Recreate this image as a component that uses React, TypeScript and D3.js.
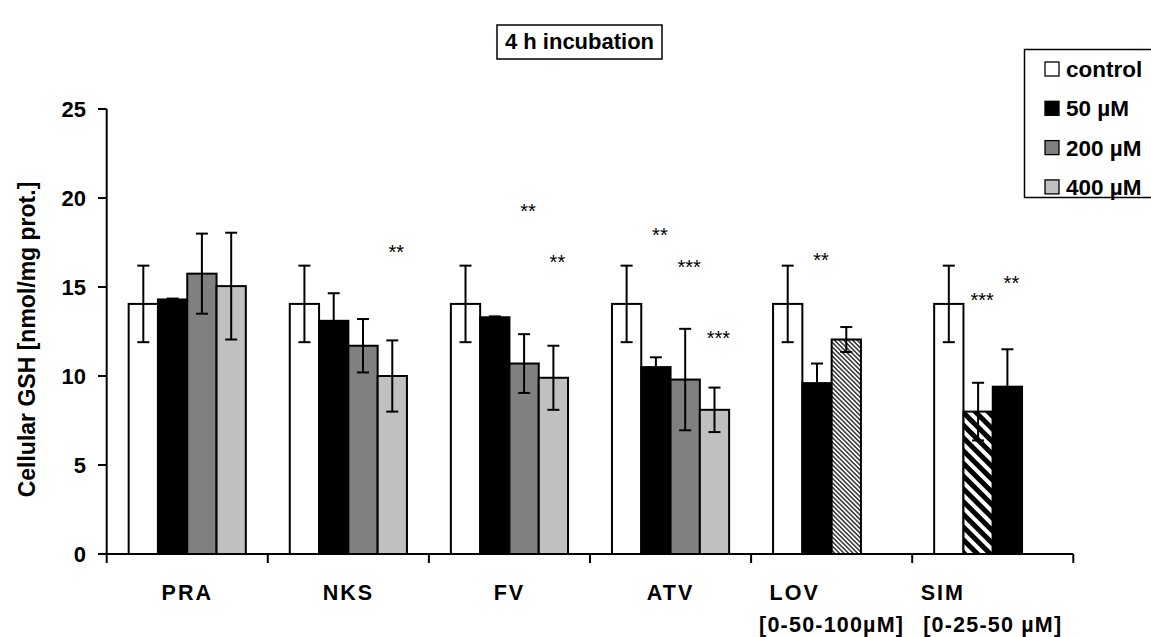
import React from "react";
import * as d3 from "d3";

// groups on the x axis
const categories = ["PRA", "NKS", "FV", "ATV", "LOV", "SIM"];
const subLabels = ["", "", "", "", "[0-50-100µM]", "[0-25-50 µM]"];
const legendLabels = ["control", "50 µM", "200 µM", "400 µM"];

// mean and SD per slot (slot 0 = control). LOV: 0/50/100 µM, SIM: 0/25/50 µM
const controlMean = [14.05, 14.05, 14.05, 14.05, 14.05, 14.05];
const controlSd = [2.15, 2.15, 2.15, 2.15, 2.15, 2.15];
const slot1Mean = [14.3, 13.1, 13.3, 10.5, 9.6, 8.0];
const slot1Sd = [0.05, 1.55, 0.05, 0.55, 1.1, 1.62];
const slot2Mean = [15.75, 11.7, 10.7, 9.8, 12.05, 9.4];
const slot2Sd = [2.25, 1.5, 1.65, 2.85, 0.7, 2.1];
const slot3Mean = [15.05, 10.0, 9.9, 8.1, NaN, NaN];
const slot3Sd = [3.0, 2.0, 1.8, 1.25, NaN, NaN];

// significance marks: category, slot, level (in nmol/mg)
const starCat = ["NKS", "FV", "FV", "ATV", "ATV", "ATV", "LOV", "SIM", "SIM"];
const starSlot = [3, 2, 3, 1, 2, 3, 1, 1, 2];
const starText = ["**", "**", "**", "**", "***", "***", "**", "***", "**"];
const starLevel = [17.2, 19.55, 16.65, 18.2, 16.35, 12.4, 16.75, 14.5, 15.5];

const yTicks = [0, 5, 10, 15, 20, 25];

const W = 1151, H = 637;
const FONT = "'Liberation Sans', Arial, sans-serif";
const slotFills = ["#ffffff", "#000000", "#808080", "#c0c0c0"];
const fillOverride: Record<string, string> = {
  "LOV-2": "url(#fineHatch)",
  "SIM-1": "url(#boldHatch)",
  "SIM-2": "#000000",
};
const labelNudge = [0, 0, 0, 0, -37, -50];

export default function App() {
  const x = d3.scaleBand().domain(categories).range([106.7, 1073.3]).paddingInner(0).paddingOuter(0);
  const inner = d3.scaleBand().domain(["0", "1", "2", "3"]).range([0, x.bandwidth()]).paddingInner(0).paddingOuter(0.75);
  const y = d3.scaleLinear().domain([0, 25]).range([554, 109]);

  const means = [controlMean, slot1Mean, slot2Mean, slot3Mean];
  const sds = [controlSd, slot1Sd, slot2Sd, slot3Sd];

  const bars: { cat: string; slot: number; m: number; sd: number; fill: string }[] = [];
  categories.forEach((c, i) => {
    means.forEach((arr, s) => {
      if (isNaN(arr[i])) return;
      bars.push({ cat: c, slot: s, m: arr[i], sd: sds[s][i], fill: fillOverride[`${c}-${s}`] || slotFills[s] });
    });
  });

  const bx = (c: string, s: number) => (x(c) as number) + (inner(String(s)) as number);
  const bw = inner.bandwidth();
  const boundaries = [...categories.map((c) => x(c) as number), x.range()[1]];

  return (
    <svg width={W} height={H} style={{ position: "absolute", left: 0, top: 0, background: "#fff" }} fontFamily={FONT}>
      <defs>
        <pattern id="fineHatch" patternUnits="userSpaceOnUse" width={3.2} height={3.2} patternTransform="rotate(-45)">
          <rect width={3.2} height={3.2} fill="#fff" />
          <rect width={1.5} height={3.2} fill="#333" />
        </pattern>
        <pattern id="boldHatch" patternUnits="userSpaceOnUse" width={9} height={9} patternTransform="rotate(-45)">
          <rect width={9} height={9} fill="#fff" />
          <rect width={5} height={9} fill="#000" />
        </pattern>
      </defs>

      {/* title */}
      <rect x={497} y={25} width={165} height={34} fill="#fff" stroke="#000" strokeWidth={1.5} />
      <text x={579.5} y={49} textAnchor="middle" fontSize={22} fontWeight="bold">4 h incubation</text>

      {/* legend */}
      <rect x={1024.5} y={49.5} width={140} height={148} fill="#fff" stroke="#000" strokeWidth={1.5} />
      {legendLabels.map((l, i) => {
        const cy = 69 + i * 39.3;
        return (
          <g key={l}>
            <rect x={1045} y={cy - 7} width={14} height={14} fill={slotFills[i]} stroke="#000" strokeWidth={1.3} />
            <text x={1066} y={cy + 8} fontSize={22.5} fontWeight="bold">{l}</text>
          </g>
        );
      })}

      {/* bars */}
      {bars.map((b) => (
        <rect key={`${b.cat}-${b.slot}`} x={bx(b.cat, b.slot)} y={y(b.m)} width={bw} height={y(0) - y(b.m)}
          fill={b.fill} stroke="#000" strokeWidth={2} />
      ))}

      {/* error bars */}
      {bars.map((b) => {
        const cx = bx(b.cat, b.slot) + bw / 2;
        const y1 = y(b.m + b.sd), y2 = y(b.m - b.sd);
        return (
          <g key={`e-${b.cat}-${b.slot}`} stroke="#000" strokeWidth={2}>
            <line x1={cx} x2={cx} y1={y1} y2={y2} />
            <line x1={cx - 6} x2={cx + 6} y1={y1} y2={y1} />
            <line x1={cx - 6} x2={cx + 6} y1={y2} y2={y2} />
          </g>
        );
      })}

      {/* stars */}
      {starCat.map((c, i) => (
        <text key={`s-${i}`} x={bx(c, starSlot[i]) + bw / 2 + 4} y={y(starLevel[i]) + 11.5} textAnchor="middle" fontSize={20}>
          {starText[i]}
        </text>
      ))}

      {/* y axis */}
      <line x1={106.7} x2={106.7} y1={y(25)} y2={y(0)} stroke="#000" strokeWidth={2} />
      {yTicks.map((t) => (
        <g key={`yt-${t}`}>
          <line x1={98} x2={106.7} y1={y(t)} y2={y(t)} stroke="#000" strokeWidth={2} />
          <text x={86} y={y(t) + 8} textAnchor="end" fontSize={22} fontWeight="bold">{t}</text>
        </g>
      ))}
      <text transform={`translate(35,${(y(0) + y(25)) / 2 + 8}) rotate(-90)`} textAnchor="middle" fontSize={23} fontWeight="bold">
        Cellular GSH [nmol/mg prot.]
      </text>

      {/* x axis */}
      <line x1={x.range()[0]} x2={x.range()[1]} y1={y(0)} y2={y(0)} stroke="#000" strokeWidth={2} />
      {boundaries.map((bpos, i) => (
        <line key={`xt-${i}`} x1={bpos} x2={bpos} y1={y(0)} y2={y(0) + 9} stroke="#000" strokeWidth={2} />
      ))}
      {categories.map((c, i) => {
        const cx = (x(c) as number) + x.bandwidth() / 2;
        return (
          <g key={`xl-${c}`}>
            <text x={cx + labelNudge[i]} y={600} textAnchor="middle" fontSize={21.5} fontWeight="bold" letterSpacing={2}>{c}</text>
            {subLabels[i] && (
              <text x={cx} y={632} textAnchor="middle" fontSize={21.5} fontWeight="bold" letterSpacing={1.2}>{subLabels[i]}</text>
            )}
          </g>
        );
      })}
    </svg>
  );
}
